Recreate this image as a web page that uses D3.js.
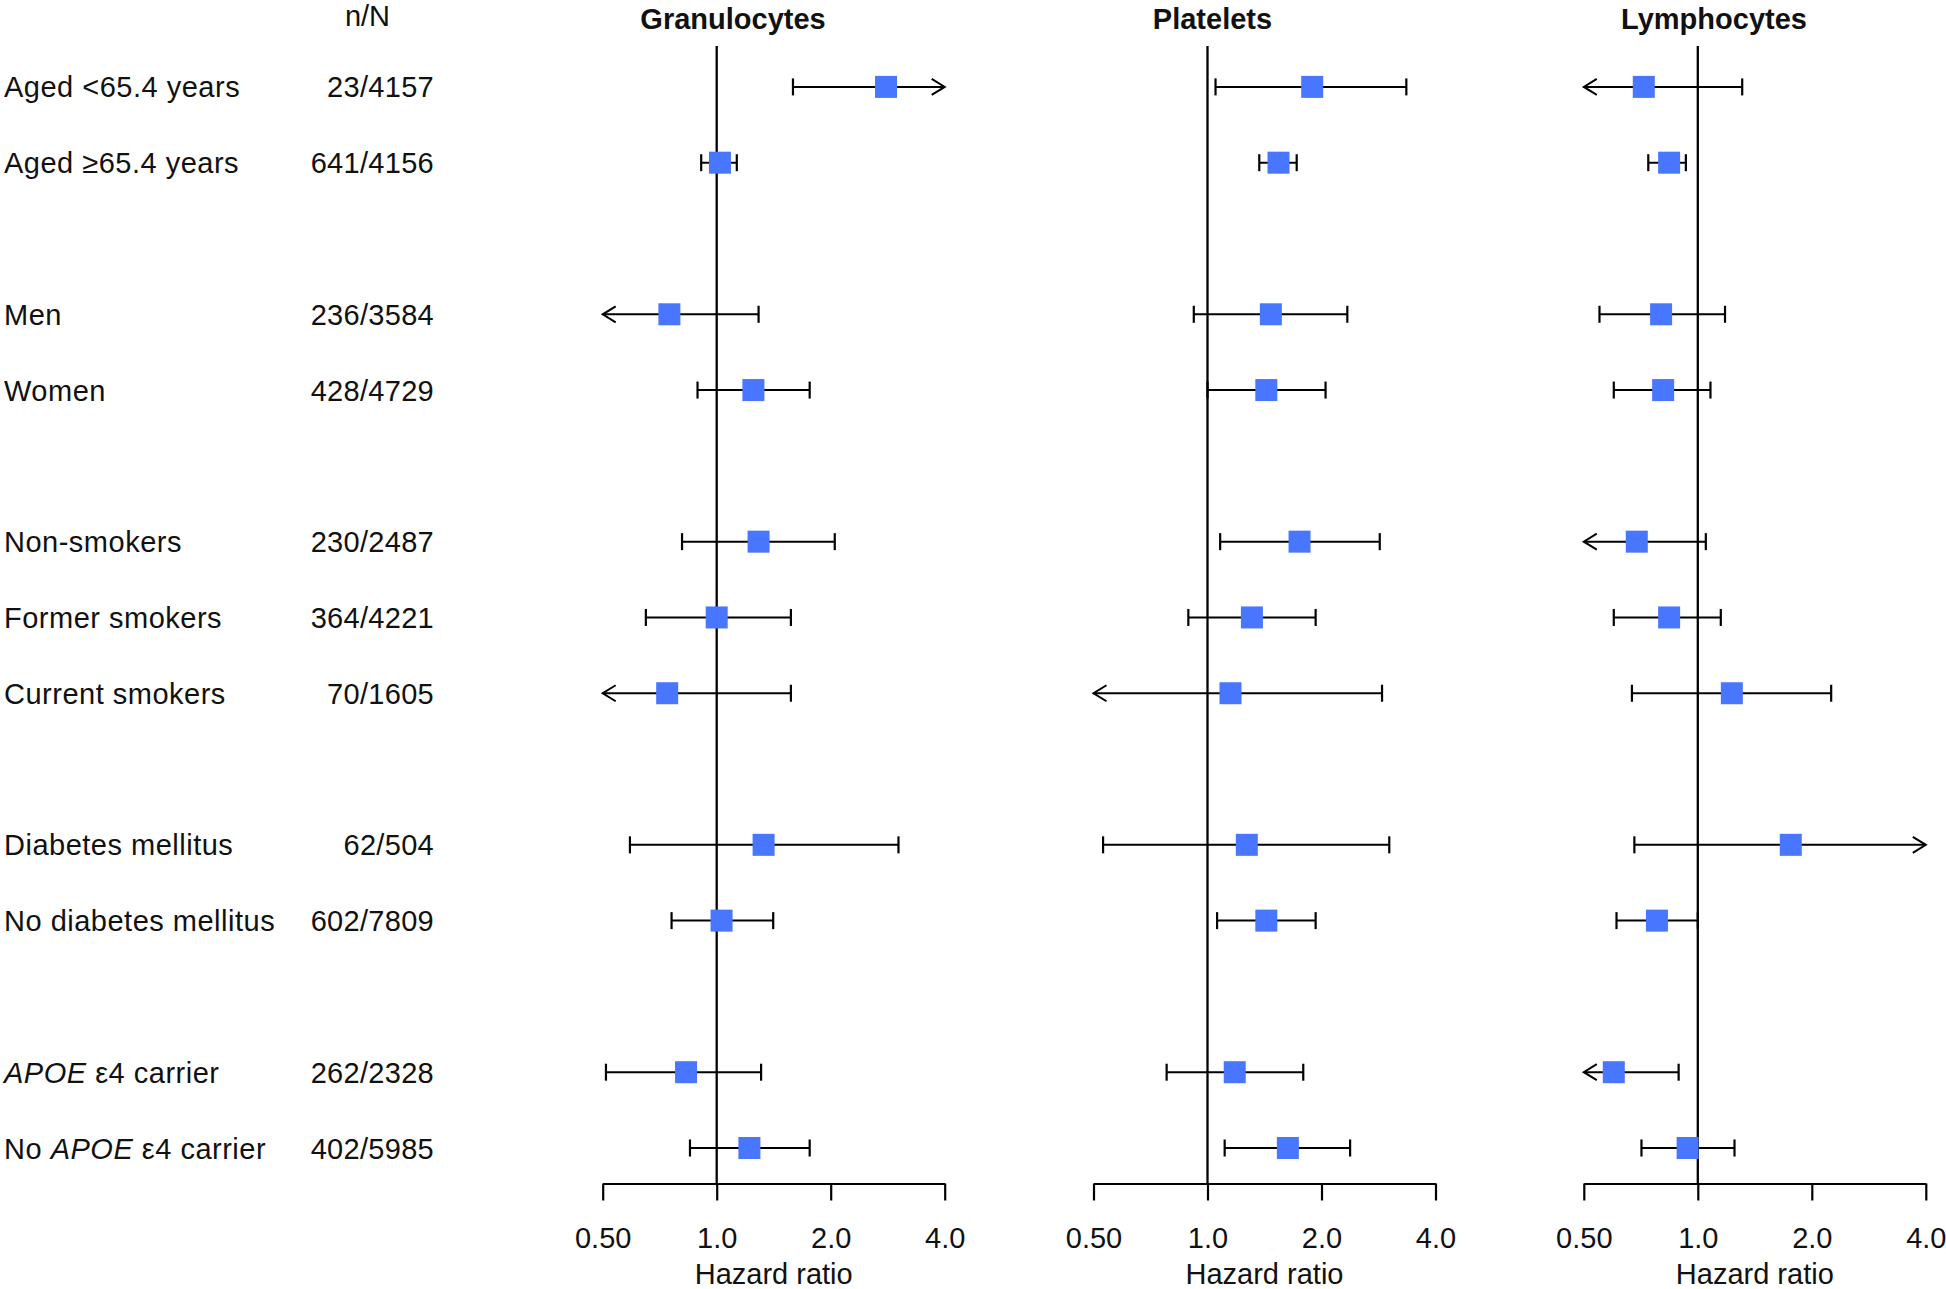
<!DOCTYPE html>
<html>
<head>
<meta charset="utf-8">
<script src="https://cdn.jsdelivr.net/npm/d3@7"></script>
<style>
  html, body { margin: 0; padding: 0; background: #fff; }
  svg { display: block; }
  text { font-family: "Liberation Sans", Arial, sans-serif; fill: #111; }
</style>
</head>
<body>
<svg id="chart" width="1946" height="1289"></svg>
<script>
// ---------- data ----------
const categories = [
  "Aged <65.4 years", "Aged \u226565.4 years",
  "Men", "Women",
  "Non-smokers", "Former smokers", "Current smokers",
  "Diabetes mellitus", "No diabetes mellitus",
  "APOE \u03b54 carrier", "No APOE \u03b54 carrier"
];
const nN = ["23/4157", "641/4156", "236/3584", "428/4729", "230/2487", "364/4221",
            "70/1605", "62/504", "602/7809", "262/2328", "402/5985"];
// slot index of each row (blank slots separate the groups)
const rowSlot = [0, 1, 3, 4, 6, 7, 8, 10, 11, 13, 14];

const panels = ["Granulocytes", "Platelets", "Lymphocytes"];

const granHR = [2.80, 1.02, 0.75, 1.25, 1.29, 1.00, 0.74, 1.33, 1.03, 0.83, 1.22];
const granLo = [1.59, 0.91, 0.44, 0.89, 0.81, 0.65, 0.38, 0.59, 0.76, 0.51, 0.85];
const granHi = [4.90, 1.13, 1.29, 1.76, 2.05, 1.57, 1.57, 3.02, 1.41, 1.31, 1.76];

const platHR = [1.89, 1.54, 1.47, 1.43, 1.75, 1.31, 1.15, 1.27, 1.43, 1.18, 1.63];
const platLo = [1.05, 1.37, 0.92, 1.00, 1.08, 0.89, 0.45, 0.53, 1.06, 0.78, 1.11];
const platHi = [3.35, 1.72, 2.34, 2.05, 2.85, 1.93, 2.89, 3.02, 1.93, 1.79, 2.38];

const lymHR = [0.72, 0.84, 0.80, 0.81, 0.69, 0.84, 1.23, 1.76, 0.78, 0.60, 0.94];
const lymLo = [0.42, 0.74, 0.55, 0.60, 0.45, 0.60, 0.67, 0.68, 0.61, 0.40, 0.71];
const lymHi = [1.31, 0.93, 1.18, 1.08, 1.05, 1.15, 2.25, 4.60, 1.00, 0.89, 1.25];

const tickValues = [0.5, 1, 2, 4];
const tickLabels = ["0.50", "1.0", "2.0", "4.0"];

const series = [
  { hr: granHR, lo: granLo, hi: granHi },
  { hr: platHR, lo: platLo, hi: platHi },
  { hr: lymHR, lo: lymLo, hi: lymHi }
];

// ---------- layout ----------
const FS = 29;
const boxColor = "#4876FF";
const panelX0 = [602.7, 1093.5, 1583.8];
const panelW = 342;
const titleX = [733, 1212.5, 1714];
const axisY = 1183.5;
const refTop = 46;
const capH = 17;
const boxS = 22;
const textDy = 10.5;

const svg = d3.select("#chart");

const y = d3.scaleLinear().domain([0, 14]).range([86.9, 1148]);

// left labels
const lab = svg.append("g");
categories.forEach((c, i) => {
  const t = lab.append("text")
    .attr("x", 4)
    .attr("y", y(rowSlot[i]) + textDy)
    .attr("font-size", FS)
    .attr("letter-spacing", 0.5);
  const parts = c.split("APOE");
  parts.forEach((p, k) => {
    if (k > 0) t.append("tspan").attr("font-style", "italic").text("APOE");
    if (p.length) t.append("tspan").text(p);
  });
});
svg.append("text").attr("x", 367.5).attr("y", 26).attr("font-size", FS)
  .attr("text-anchor", "middle").text("n/N");
svg.append("g").selectAll("text").data(nN).join("text")
  .attr("x", 434)
  .attr("y", (d, i) => y(rowSlot[i]) + textDy)
  .attr("font-size", FS)
  .attr("letter-spacing", 0.3)
  .attr("text-anchor", "end")
  .text(d => d);

// panels
panels.forEach((name, p) => {
  const x = d3.scaleLog().base(2).domain([0.5, 4]).range([panelX0[p], panelX0[p] + panelW]);
  const g = svg.append("g");
  const s = series[p];
  const [xmin, xmax] = x.range();

  g.append("text")
    .attr("x", titleX[p]).attr("y", 29)
    .attr("font-size", FS).attr("font-weight", "bold")
    .attr("text-anchor", "middle").text(name);

  // reference line
  g.append("line")
    .attr("x1", x(1)).attr("x2", x(1))
    .attr("y1", refTop).attr("y2", axisY)
    .attr("stroke", "#000").attr("stroke-width", 2.3);

  // axis
  const axis = d3.axisBottom(x)
    .tickValues(tickValues)
    .tickFormat((d, i) => tickLabels[i])
    .tickSize(capH)
    .tickSizeOuter(0)
    .tickPadding(6);
  const ag = g.append("g").attr("transform", `translate(0,${axisY})`).call(axis);
  ag.select(".domain").attr("stroke", "#000").attr("stroke-width", 2.2);
  ag.selectAll(".tick line").attr("stroke", "#000").attr("stroke-width", 2.2);
  ag.selectAll(".tick text")
    .attr("font-size", FS)
    .attr("font-family", "Liberation Sans, Arial, sans-serif")
    .attr("fill", "#111")
    .attr("dy", null)
    .attr("y", 1248 - axisY);

  g.append("text")
    .attr("x", (xmin + xmax) / 2).attr("y", 1284)
    .attr("font-size", FS).attr("text-anchor", "middle")
    .text("Hazard ratio");

  // error bars
  s.hr.forEach((hr, i) => {
    const yy = y(rowSlot[i]);
    const lo = s.lo[i], hi = s.hi[i];
    const xl = lo < 0.5 ? xmin : x(lo);
    const xh = hi > 4 ? xmax : x(hi);
    g.append("line").attr("x1", xl).attr("x2", xh).attr("y1", yy).attr("y2", yy)
      .attr("stroke", "#000").attr("stroke-width", 2);
    if (lo >= 0.5) {
      g.append("line").attr("x1", xl).attr("x2", xl)
        .attr("y1", yy - capH / 2).attr("y2", yy + capH / 2)
        .attr("stroke", "#000").attr("stroke-width", 2.2);
    } else {
      g.append("path")
        .attr("d", `M${xl + 13},${yy - 8} L${xl},${yy} L${xl + 13},${yy + 8}`)
        .attr("fill", "none").attr("stroke", "#000").attr("stroke-width", 2);
    }
    if (hi <= 4) {
      g.append("line").attr("x1", xh).attr("x2", xh)
        .attr("y1", yy - capH / 2).attr("y2", yy + capH / 2)
        .attr("stroke", "#000").attr("stroke-width", 2.2);
    } else {
      g.append("path")
        .attr("d", `M${xh - 13},${yy - 8} L${xh},${yy} L${xh - 13},${yy + 8}`)
        .attr("fill", "none").attr("stroke", "#000").attr("stroke-width", 2);
    }
  });

  // boxes
  g.append("g").selectAll("rect").data(s.hr).join("rect")
    .attr("x", d => x(d) - boxS / 2)
    .attr("y", (d, i) => y(rowSlot[i]) - boxS / 2)
    .attr("width", boxS).attr("height", boxS)
    .attr("fill", boxColor);
});
</script>
</body>
</html>
